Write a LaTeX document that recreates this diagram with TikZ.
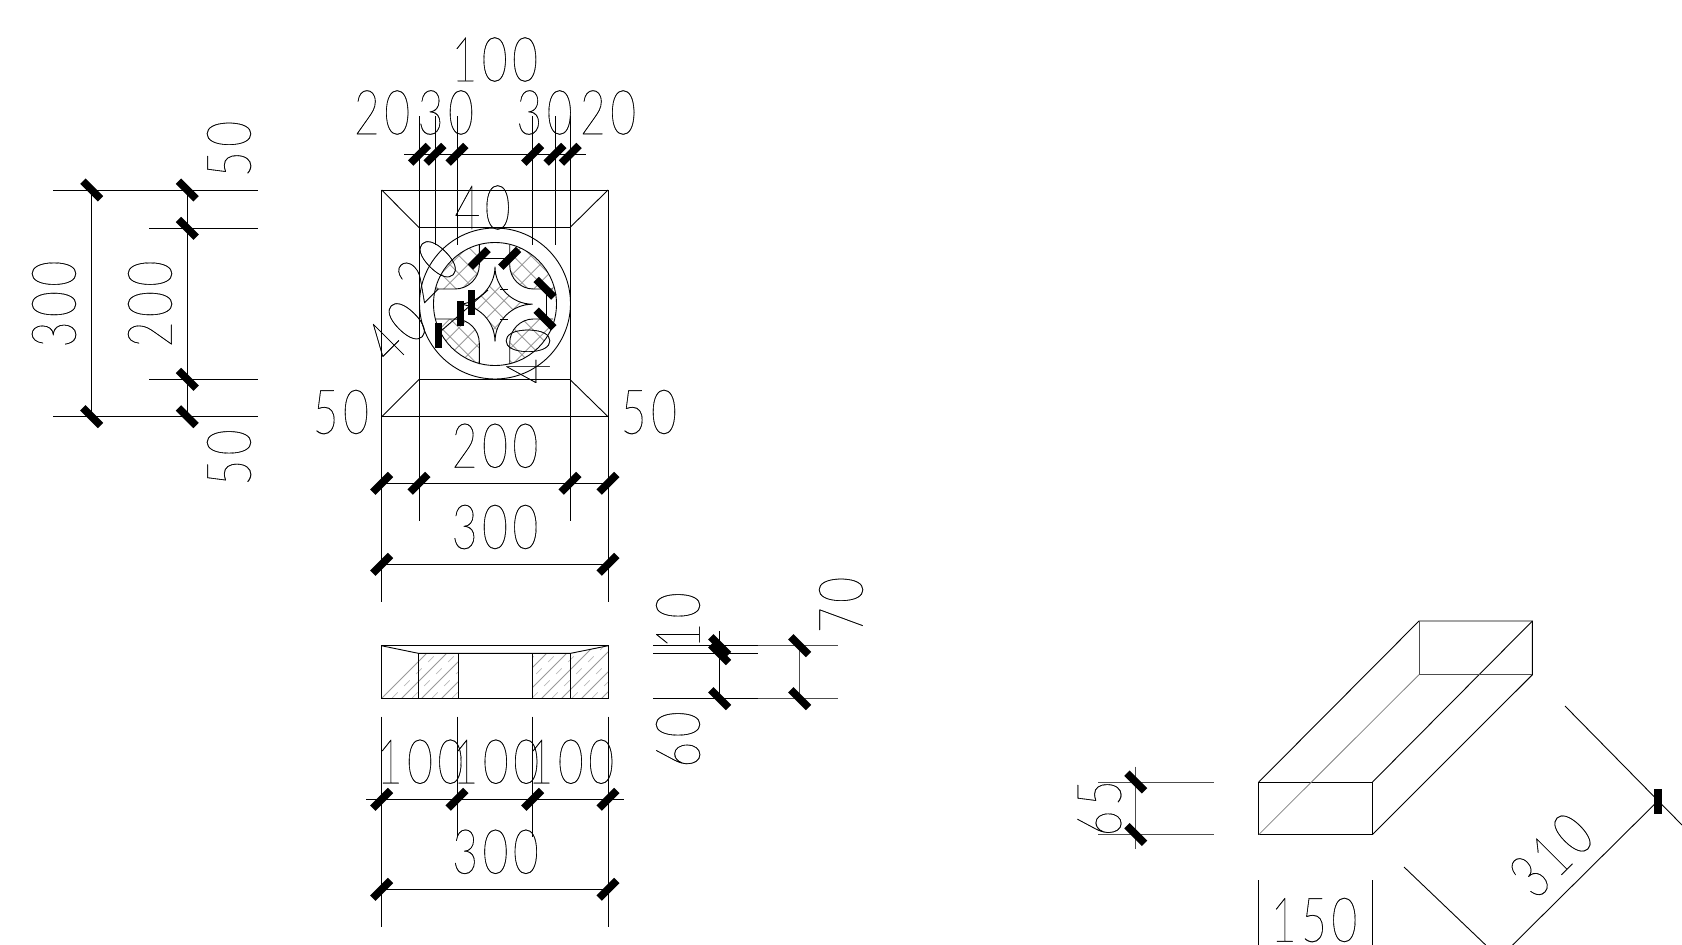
\documentclass[tikz,border=0pt]{standalone}
\usepackage{fontspec}
\usepackage{graphicx}
\newfontfamily\cad[FakeBold=0.3,LetterSpace=10]{Lato Hairline}
\newcommand{\dimtxt}[1]{\scalebox{.72}[1]{\fontsize{62}{62}\selectfont\cad #1}}
\newcommand{\tk}[3]{\fill[black,shift={(#1,#2)},rotate=#3] (-12.5pt,-3.8pt) rectangle (12.5pt,3.8pt);}
\tikzset{
  ln/.style={line width=.9pt,black},
  gln/.style={line width=.9pt,black!70},
  hat/.style={line width=.8pt,black!40},
  hatd/.style={line width=.7pt,black!28,dash pattern=on 8pt off 9pt},
  lbl/.style={inner sep=0pt,outer sep=0pt,anchor=center}
}
\begin{document}
\begin{tikzpicture}[x=1pt,y=-1pt]
\useasboundingbox (0,0) rectangle (1682,945);
% ---- plan: cross-hatching
\begin{scope}
\clip (495,304) circle[radius=61.5pt];
\begin{scope}[even odd rule]
\clip (479.3,230) -- (479.3,265) .. controls (479.3,278.3) and (468.3,289) .. (455,289) -- (425,289) -- (425,230) -- cycle
 (509.7,230) -- (509.7,265) .. controls (509.7,278.3) and (520.5,289) .. (533.3,289) -- (565,289) -- (565,230) -- cycle
 (479.3,378) -- (479.3,343) .. controls (479.3,329.7) and (468.3,319) .. (455,319) -- (425,319) -- (425,378) -- cycle
 (509.7,378) -- (509.7,343) .. controls (509.7,329.7) and (520.5,319) .. (533.3,319) -- (565,319) -- (565,378) -- cycle
 (495,266.7) .. controls (495,287) and (512,304.2) .. (532.5,304.2) .. controls (512,304.2) and (495,321) .. (495,341.7) .. controls (495,321) and (478,304.2) .. (457.5,304.2) .. controls (478,304.2) and (495,287) .. (495,266.7) -- cycle;
\foreach \k in {-10,...,10} {
  \draw[hat] (495+\k*9-100,291.7-\k*9-100) -- (495+\k*9+100,291.7-\k*9+100);
  \draw[hat] (495+\k*9-100,291.7+\k*9+100) -- (495+\k*9+100,291.7+\k*9-100);
}
\end{scope}
\end{scope}
% ---- plan outline
\draw[ln] (381.7,190) -- (608,190) (381.7,416.7) -- (608,416.7);
\draw[ln] (381.7,190) -- (381.7,601.7) (608,190) -- (608,601.7);
\draw[ln] (419,227.5) -- (570,227.5) (419,379.5) -- (570,379.5);
\draw[ln] (419,116) -- (419,521) (570.3,116) -- (570.3,521);
\draw[ln] (381.7,190) -- (419,227.5) (608,190) -- (570,227.5) (381.7,416.7) -- (419,379.5) (608,416.7) -- (570,379.5);
\draw[ln] (495,303.5) circle[radius=75.5pt];
\draw[ln] (495,304) circle[radius=61.5pt];
% pieces
\draw[ln] (479.3,245) -- (479.3,265) .. controls (479.3,278.3) and (468.3,289) .. (455,289) -- (436,289);
\draw[ln] (509.7,245) -- (509.7,265) .. controls (509.7,278.3) and (520.5,289) .. (533.3,289) -- (553,289);
\draw[ln] (479.3,364) -- (479.3,343) .. controls (479.3,329.7) and (468.3,319) .. (455,319) -- (436,319);
\draw[ln] (509.7,364) -- (509.7,343) .. controls (509.7,329.7) and (520.5,319) .. (533.3,319) -- (553,319);
\draw[ln] (495,266.7) .. controls (495,287) and (512,304.2) .. (532.5,304.2) .. controls (512,304.2) and (495,321) .. (495,341.7) .. controls (495,321) and (478,304.2) .. (457.5,304.2) .. controls (478,304.2) and (495,287) .. (495,266.7) -- cycle;
\draw[ln] (500,289) -- (508,289) (500,319) -- (508,319);
% inner dims
\draw[ln] (479.3,258.3) -- (509.7,258.3);
\draw[ln] (546,288.3) -- (546,319);
\draw[ln] (437,334.5) -- (488,290);
\tk{479.3}{258.3}{45}\tk{509.7}{258.3}{45}
\tk{545}{288.3}{-45}\tk{545}{319}{-45}
\tk{438.3}{335}{90}\tk{460.3}{313.3}{90}\tk{471.3}{302.7}{90}
% top dims
\draw[ln] (435,116) -- (435,245) (457,116) -- (457,245) (532.7,116) -- (532.7,245) (555,116) -- (555,245);
\draw[ln] (404,154.3) -- (585.7,154.3);
\foreach \x in {419.5,435,457,532.7,555,570.3} {\tk{\x}{154.3}{45}}
% left dims
\draw[ln] (53.3,190) -- (258,190) (53.3,416.7) -- (258,416.7);
\draw[ln] (149.3,228.3) -- (258,228.3) (149.3,379.3) -- (258,379.3);
\draw[ln] (91.7,190) -- (91.7,416.7) (187.3,190) -- (187.3,416.7);
\tk{91.7}{190}{-45}\tk{187.3}{190}{-45}\tk{187.3}{228.3}{-45}\tk{187.3}{379.3}{-45}\tk{91.7}{416.7}{-45}\tk{187.3}{416.7}{-45}
% lower dims of plan
\draw[ln] (381.7,483.3) -- (608,483.3) (381.7,564.3) -- (608,564.3);
\foreach \x in {381.7,419,570,608} {\tk{\x}{483.3}{45}}
\tk{381.7}{564.3}{45}\tk{608}{564.3}{45}
% ---- section
\begin{scope}
\clip (381.3,645.7) -- (418.3,653.3) -- (458,653.3) -- (458,698.7) -- (381.3,698.7) -- cycle
      (532,653.3) -- (570.7,653.3) -- (608.3,645.7) -- (608.3,698.7) -- (532,698.7) -- cycle;
\foreach \k in {0,...,15} {
  \draw[hat] (370+\k*20,710) -- (370+\k*20+70,640);
  \draw[hatd] (380+\k*20,710) -- (380+\k*20+70,640);
}
\end{scope}
\draw[ln] (381.3,645.7) rectangle (608.3,698.7);
\draw[ln] (418.3,653.3) -- (570.7,653.3) (381.3,645.7) -- (418.3,653.3) (608.3,645.7) -- (570.7,653.3);
\draw[ln] (418.3,653.3) -- (418.3,698.7) (458,653.3) -- (458,698.7) (532,653.3) -- (532,698.7) (570.7,653.3) -- (570.7,698.7);
% section dims bottom
\draw[ln] (381.7,716.7) -- (381.7,926.7) (608,716.7) -- (608,926.7);
\draw[ln] (457,716.7) -- (457,836.7) (532.7,716.7) -- (532.7,836.7);
\draw[ln] (366,799.3) -- (624,799.3) (381.7,889.3) -- (608,889.3);
\foreach \x in {381.7,457,532.7,608} {\tk{\x}{799.3}{45}}
\tk{381.7}{889.3}{45}\tk{608}{889.3}{45}
% section dims right
\draw[ln] (653.3,645.7) -- (757.7,645.7) (653.3,653.7) -- (757.7,653.7) (653.3,698.7) -- (757.7,698.7);
\draw[gln] (757.7,645.7) -- (837.7,645.7) (757.7,698.7) -- (837.7,698.7);
\draw[ln] (719.7,631) -- (719.7,698.7);
\draw[gln] (799.7,645.7) -- (799.7,698.7);
\tk{719.7}{645.7}{-45}\tk{719.7}{653.7}{-45}\tk{719.7}{698.7}{-45}\tk{799.7}{645.7}{-45}\tk{799.7}{698.7}{-45}
% ---- block
\draw[ln] (1258.8,782) rectangle (1372.5,834.5);
\draw[ln] (1258.8,782) -- (1419,621) -- (1532.4,621) -- (1532.4,674.7) -- (1372.5,834.5);
\draw[ln] (1372.5,782) -- (1532.4,621);
\draw[gln] (1419,621) -- (1419,674.7) -- (1532.4,674.7);
\draw[line width=.8pt,black!50] (1258.8,834.5) -- (1419,674.7);
% block dims
\draw[gln] (1098,782) -- (1214,782) (1098,834.5) -- (1214,834.5);
\draw[gln] (1135.8,766.7) -- (1135.8,849.3);
\tk{1135.8}{782}{-45}\tk{1135.8}{834.5}{-45}
\draw[ln] (1258.8,880) -- (1258.8,945) (1372,880) -- (1372,945);
\draw[ln] (1404,867) -- (1485.7,945);
\draw[ln] (1565,706) -- (1682,825);
\draw[ln] (1512.6,945) -- (1657.8,801);
\tk{1657.8}{801}{90}
% ---- labels
\node[lbl] (t100a) at (494.7,59.5) {\dimtxt{100}};
\node[lbl] (t20a) at (382,112.5) {\dimtxt{20}};
\node[lbl] (t30a) at (445.8,112.5) {\dimtxt{30}};
\node[lbl] (t30b) at (544.5,112.5) {\dimtxt{30}};
\node[lbl] (t20b) at (608,112.5) {\dimtxt{20}};
\node[lbl] (t40a) at (482.5,207.5) {\dimtxt{40}};
\node[lbl,rotate=45] (t20c) at (427,270) {\dimtxt{20}};
\node[lbl,rotate=45] (t40b) at (396,332) {\dimtxt{40}};
\node[lbl,rotate=90] (t40c) at (528,356) {\dimtxt{40}};
\node[lbl] (t50a) at (340.8,412) {\dimtxt{50}};
\node[lbl] (t50b) at (648.8,412) {\dimtxt{50}};
\node[lbl] (t200a) at (495,445.8) {\dimtxt{200}};
\node[lbl] (t300a) at (495,527) {\dimtxt{300}};
\node[lbl,rotate=90] (t300b) at (54,304) {\dimtxt{300}};
\node[lbl,rotate=90] (t200b) at (150,304) {\dimtxt{200}};
\node[lbl,rotate=90] (t50c) at (229,149) {\dimtxt{50}};
\node[lbl,rotate=90] (t50d) at (229,457.5) {\dimtxt{50}};
\node[lbl] (t100b) at (420,761.7) {\dimtxt{100}};
\node[lbl] (t100c) at (495.8,761.7) {\dimtxt{100}};
\node[lbl] (t100d) at (570.8,761.7) {\dimtxt{100}};
\node[lbl] (t300c) at (495.5,851.8) {\dimtxt{300}};
\node[lbl,rotate=90] (t70) at (841,605) {\dimtxt{70}};
\node[lbl,rotate=90] (t10) at (678,620.5) {\dimtxt{10}};
\node[lbl,rotate=90] (t60) at (678,739.5) {\dimtxt{60}};
\node[lbl,rotate=90] (t65) at (1099.5,808.3) {\dimtxt{65}};
\node[lbl] (t150) at (1314,920) {\dimtxt{150}};
\node[lbl,rotate=45] (t310) at (1551,855) {\dimtxt{310}};
\end{tikzpicture}
\end{document}
